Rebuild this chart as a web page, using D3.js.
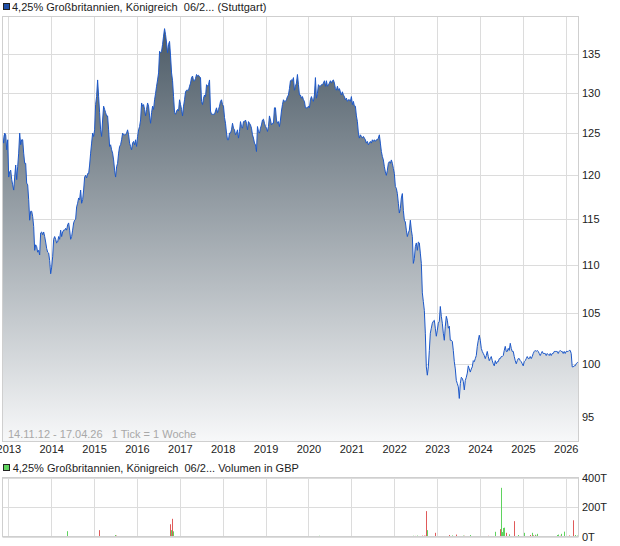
<!DOCTYPE html>
<html><head><meta charset="utf-8">
<script src="https://cdnjs.cloudflare.com/ajax/libs/d3/7.8.5/d3.min.js"></script>
<style>
html,body{margin:0;padding:0;background:#fff;}
svg{display:block;font-family:"Liberation Sans",Arial,sans-serif;}
text{white-space:pre;}
</style></head><body><svg id="c" width="620" height="546"></svg>
<script>
const titleText = "4,25% Großbritannien, Königreich  06/2... (Stuttgart)";
const volumeTitle = "4,25% Großbritannien, Königreich  06/2... Volumen in GBP";
const rangeText = "14.11.12 - 17.04.26   1 Tick = 1 Woche";
const startDate = "2012-11-14";
const endDate = "2026-04-17";
const yearTicks = [2013,2014,2015,2016,2017,2018,2019,2020,2021,2022,2023,2024,2025,2026];
const priceTicks = [95,100,105,110,115,120,125,130,135];
const volumeTicks = [0,200,400];

// price readings, evenly spaced from startDate to endDate
const prices = [
124.8,123.8,125.0,124.8,123.0,124.2,119.8,120.4,120.6,119.5,118.9,118.3,119.8,121.2,119.5,121.0,122.6,125.0,123.6,124.2,
124.2,122.6,121.4,121.4,119.1,118.9,117.2,114.9,115.9,115.9,115.3,114.2,111.6,112.2,112.0,111.4,111.6,111.1,
113.5,113.6,113.3,113.6,113.1,112.5,111.8,111.4,111.3,110.5,
109.1,109.8,110.9,112.8,113.1,112.8,112.4,112.5,113.1,112.8,
113.8,113.1,113.6,113.8,113.8,114.0,113.8,114.4,114.6,113.8,
112.8,113.1,113.8,114.6,114.9,115.0,116.4,116.8,117.4,117.2,
118.3,116.8,117.2,118.3,119.8,120.0,119.7,120.2,120.2,121.2,
122.6,123.8,125.0,124.6,125.4,128.5,129.5,131.6,129.5,127.5,
125.4,124.6,126.6,128.3,127.9,127.5,127.1,127.1,125.4,123.4,
123.6,123.0,122.6,121.8,120.6,119.8,121.0,121.4,122.6,123.4,
123.6,124.2,125.0,124.8,124.8,124.8,125.0,125.4,124.8,123.8,
123.4,123.0,123.8,124.0,123.6,124.2,123.4,124.6,125.4,125.8,
126.6,128.7,128.3,128.5,127.9,127.1,127.9,128.7,128.3,127.1,
126.2,127.5,128.3,127.9,129.1,129.9,130.8,131.6,132.5,135.3,
135.1,135.3,136.2,137.3,138.3,137.5,136.4,135.1,136.2,136.6,
134.7,132.5,131.5,129.5,127.5,127.3,127.7,127.9,127.7,129.1,
128.5,127.9,127.1,128.3,129.1,130.1,130.3,130.3,130.3,130.8,
131.2,131.9,132.1,131.5,131.5,131.8,
132.3,132.1,132.2,132.0,
131.9,128.9,128.5,129.3,129.7,129.5,131.0,130.8,131.0,131.6,
127.7,127.3,127.3,127.3,127.3,127.7,128.1,127.5,127.9,128.3,
128.9,129.1,128.5,128.3,126.9,126.2,125.0,124.2,124.2,125.0,
125.0,125.4,126.2,125.6,125.4,124.8,125.0,125.4,124.4,125.2,
126.4,125.8,125.6,126.4,126.4,126.6,126.2,125.4,126.4,126.2,
126.0,125.6,124.8,124.4,123.8,123.6,122.8,125.8,125.2,125.0,
125.6,126.0,126.6,126.7,126.2,125.8,125.6,125.2,125.8,127.1,
126.6,126.0,126.2,126.2,128.1,128.1,126.6,126.2,126.4,125.8,
126.6,127.7,128.5,129.1,128.9,128.9,129.1,129.5,129.7,130.5,
131.5,131.6,131.5,131.9,130.3,130.8,131.2,132.3,131.0,129.7,
129.7,129.3,129.5,129.1,128.9,128.1,128.1,128.1,128.3,128.1,
129.1,129.5,129.1,128.9,129.7,131.9,129.3,129.9,131.0,130.8,
130.8,131.0,131.0,131.2,131.5,130.8,131.5,130.8,131.0,131.2,
131.5,131.2,131.5,131.6,131.2,130.5,130.3,130.8,130.3,130.5,
130.1,129.7,130.1,129.7,129.5,129.1,129.3,128.9,129.1,129.1,
128.9,129.5,128.5,128.9,128.3,128.3,127.1,126.4,125.0,124.4,
124.8,124.6,124.4,124.6,124.4,124.2,123.8,124.0,123.6,123.8,
124.0,123.8,124.2,124.0,124.2,124.0,124.2,124.2,124.4,124.8,
123.8,122.8,122.2,121.8,121.0,120.4,120.0,120.6,121.4,121.6,
121.4,121.8,121.4,120.8,120.2,118.7,118.5,117.9,116.8,115.7,
116.2,117.4,117.9,116.0,114.9,114.7,113.8,113.1,113.5,113.8,
114.9,113.8,113.1,110.2,110.7,112.0,112.4,111.6,112.5,112.4,
111.3,110.2,107.1,106.2,105.3,103.0,99.7,98.9,99.7,101.3,
103.0,103.5,104.0,104.2,104.3,103.5,102.7,103.3,104.0,104.2,
105.7,104.7,104.0,103.0,102.3,103.7,104.7,104.3,103.5,103.7,
102.3,102.3,102.2,101.3,100.2,99.5,98.4,98.1,97.8,96.7,
98.1,98.7,98.6,98.3,97.5,98.4,98.7,99.1,99.8,99.5,
99.2,99.5,99.7,100.3,100.2,100.5,100.8,101.7,102.3,102.8,
102.3,101.5,101.2,101.0,100.8,100.5,100.8,101.2,100.7,100.3,
100.5,100.7,100.3,100.0,99.8,100.3,100.0,100.2,100.2,100.5,
100.5,100.7,100.7,100.8,101.3,101.7,101.2,101.2,101.5,101.3,
102.0,101.5,101.2,101.2,100.7,100.3,100.0,100.3,100.5,100.5,
100.3,100.2,100.0,99.8,100.2,100.3,100.5,100.7,100.5,100.5,
100.7,100.5,100.7,101.0,101.2,101.3,101.2,101.3,101.2,101.0,
100.8,101.0,101.2,101.0,101.0,101.0,100.8,101.0,100.9,100.8,
101.0,100.8,101.0,101.0,101.2,101.2,101.2,101.2,101.0,101.2,
101.3,101.2,101.2,101.0,101.2,101.0,101.2,101.2,101.2,101.3,
101.3,101.0,99.7,99.7,99.8,99.8,100.0,100.1,100.2
];

const volumeDates = ["2014-05-18","2015-02-15","2015-07-01","2015-07-08","2016-10-12","2016-10-20","2016-10-26","2016-11-03",
"2020-04-01","2022-06-10","2022-06-26","2022-07-13","2022-08-25","2022-09-10","2022-09-18","2022-09-27","2022-10-03","2022-10-11",
"2022-12-15","2023-04-15","2023-05-10","2023-06-10","2023-08-06","2023-08-17","2023-10-08","2024-03-13","2024-05-08","2024-06-20",
"2024-07-01","2024-07-09","2024-07-17","2024-07-23","2024-08-10","2024-09-05","2024-10-20","2024-11-23","2025-01-10","2025-03-02",
"2025-03-22","2025-03-30","2025-04-15","2025-04-23","2025-05-02","2025-06-08","2025-10-18","2025-10-31","2025-11-13","2025-11-21",
"2025-12-19","2026-01-26","2026-03-06","2026-03-23","2026-04-07"];
const volumeValues = [36,43,10,6,83,43,120,35,
5,5,4,6,6,6,5,172,43,12,
25,10,7,13,6,5,10,5,32,50,
330,30,58,60,25,15,104,10,25,10,
25,8,12,5,18,3,10,13,5,18,
33,7,110,10,6];
const volumeUp = [1,0,1,0,0,1,0,1,
1,1,0,1,0,0,0,0,1,1,
0,0,1,0,1,0,1,0,1,0,
1,1,1,1,0,1,0,1,1,0,
1,0,1,0,1,1,1,1,0,1,
1,0,0,1,1];

const parse = d3.timeParse("%Y-%m-%d");
const t0 = parse(startDate), t1 = parse(endDate);
const priceData = prices.map((v, i) => ({date: new Date(+t0 + (t1 - t0) * i / (prices.length - 1)), v}));
const volData = volumeDates.map((d, i) => ({date: parse(d), v: volumeValues[i], up: volumeUp[i] === 1}));

const svg = d3.select("#c");
const L = 2.5, R = 578.5, PT = 16.5, PB = 441.5, VT = 477.5, VB = 536.5;
const x = d3.scaleTime().domain([t0, t1]).range([2.7, 578.2]);
const y = d3.scaleLog().domain([92.8, 140]).range([441, 16]);
const yv = d3.scaleLinear().domain([0, 400]).range([VB, VT]);
const gridC = "#dcdcdc", borderC = "#cfcfcf";
const yearDates = yearTicks.map(yr => new Date(yr, 0, 1));
const px = d => Math.round(x(d)) + 0.5;

const defs = svg.append("defs");
const grad = defs.append("linearGradient").attr("id", "g").attr("gradientUnits", "userSpaceOnUse")
  .attr("x1", 0).attr("x2", 0).attr("y1", 16).attr("y2", 441);
grad.append("stop").attr("offset", 0).attr("stop-color", "#47566200".slice(0,7));
grad.append("stop").attr("offset", 1).attr("stop-color", "#f7f8f9");
defs.append("clipPath").attr("id", "cp").append("rect").attr("x", L).attr("y", PT).attr("width", R - L).attr("height", PB - PT);

// title
svg.append("rect").attr("x", 3.5).attr("y", 3.5).attr("width", 6).attr("height", 6).attr("fill", "#1f4fa8").attr("stroke", "#222");
svg.append("text").attr("x", 12).attr("y", 10.5).attr("font-size", 11).attr("fill", "#222").text(titleText);

// price grid
const g = svg.append("g");
g.selectAll(".vg").data(yearDates).join("line").attr("x1", px).attr("x2", px).attr("y1", PT).attr("y2", PB).attr("stroke", gridC);
g.selectAll(".hg").data(priceTicks).join("line").attr("x1", L).attr("x2", R)
  .attr("y1", d => Math.round(y(d)) + 0.5).attr("y2", d => Math.round(y(d)) + 0.5).attr("stroke", gridC);

const area = d3.area().x(d => x(d.date)).y0(441).y1(d => y(d.v));
const line = d3.line().x(d => x(d.date)).y(d => y(d.v));
const cg = svg.append("g").attr("clip-path", "url(#cp)");
cg.append("path").datum(priceData).attr("d", area).attr("fill", "url(#g)");
cg.append("path").datum(priceData).attr("d", line).attr("fill", "none").attr("stroke", "#1d58c8").attr("stroke-width", 1);

svg.append("text").attr("x", 8).attr("y", 438).attr("font-size", 11).attr("fill", "#a8a8a8").text(rangeText);
svg.append("rect").attr("x", L).attr("y", PT).attr("width", R - L).attr("height", PB - PT).attr("fill", "none").attr("stroke", borderC);

// axes
const ay = svg.append("g").attr("transform", `translate(${R},0)`)
  .call(d3.axisRight(y).tickValues(priceTicks).tickSize(0).tickPadding(3.5).tickFormat(d3.format("d")));
ay.select(".domain").remove();
ay.selectAll("text").attr("font-size", 11).attr("fill", "#222").attr("font-family", "Liberation Sans, Arial, sans-serif");

const ax = svg.append("g").attr("transform", `translate(0,${PB})`)
  .call(d3.axisBottom(x).tickValues(yearDates).tickSize(0).tickPadding(4).tickFormat(d3.timeFormat("%Y")));
ax.select(".domain").remove();
ax.selectAll("text").attr("font-size", 11).attr("fill", "#222").attr("font-family", "Liberation Sans, Arial, sans-serif");

// volume panel
svg.append("rect").attr("x", 3.5).attr("y", 464.5).attr("width", 6).attr("height", 6).attr("fill", "#5fd35f").attr("stroke", "#222");
svg.append("text").attr("x", 12.7).attr("y", 472).attr("font-size", 11).attr("fill", "#222").text(volumeTitle);
const vg = svg.append("g");
vg.selectAll(".vv").data(yearDates).join("line").attr("x1", px).attr("x2", px).attr("y1", VT).attr("y2", VB).attr("stroke", gridC);
vg.selectAll(".vh").data(volumeTicks).join("line").attr("x1", L).attr("x2", R)
  .attr("y1", d => Math.round(yv(d)) + 0.5).attr("y2", d => Math.round(yv(d)) + 0.5).attr("stroke", gridC);
vg.selectAll(".bar").data(volData).join("rect")
  .attr("x", d => Math.round(x(d.date))).attr("width", 1)
  .attr("y", d => yv(d.v)).attr("height", d => yv(0) - yv(d.v))
  .attr("fill", d => d.up ? "#5fd35f" : "#e05a5a");
svg.append("rect").attr("x", L).attr("y", VT).attr("width", R - L).attr("height", VB - VT).attr("fill", "none").attr("stroke", borderC);
const av = svg.append("g").attr("transform", `translate(${R},0)`)
  .call(d3.axisRight(yv).tickValues(volumeTicks).tickSize(0).tickPadding(3.5).tickFormat(d => d + "T"));
av.select(".domain").remove();
av.selectAll("text").attr("font-size", 11).attr("fill", "#222").attr("font-family", "Liberation Sans, Arial, sans-serif");
</script></body></html>
